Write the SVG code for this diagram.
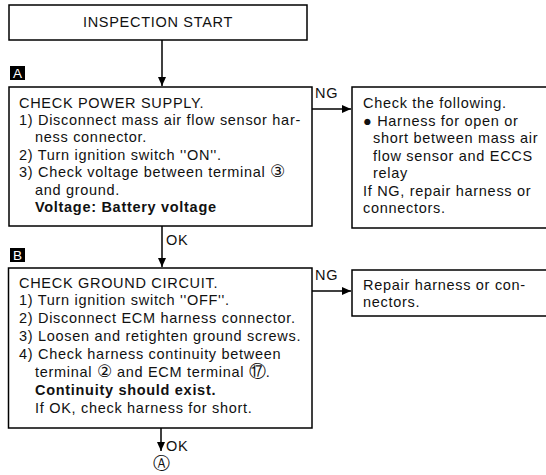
<svg xmlns="http://www.w3.org/2000/svg" width="546" height="475" viewBox="0 0 546 475">
<defs>
<marker id="ah" markerWidth="10" markerHeight="10" refX="9" refY="5" orient="auto" markerUnits="userSpaceOnUse">
<path d="M0,1 L9,5 L0,9 Z" fill="#000"/>
</marker>
<style>
.box{fill:#fff;stroke:#000;stroke-width:1.5}
.t{font-family:"Liberation Sans","DejaVu Sans",Arial,sans-serif;font-size:14.5px;letter-spacing:0.7px;fill:#111}
.b{font-weight:bold}
.cn{font-size:17px;letter-spacing:0}
.lab{font-family:"Liberation Sans",Arial,sans-serif;font-size:13.5px;fill:#fff}
.c{fill:none;stroke:#000;stroke-width:1.5}
</style>
</defs>
<rect width="546" height="475" fill="#fff"/>
<g id="connectors">
<line class="c" x1="162" y1="40" x2="162" y2="86" marker-end="url(#ah)"/>
<line class="c" x1="162" y1="226" x2="162" y2="267" marker-end="url(#ah)"/>
<line class="c" x1="312" y1="109" x2="351" y2="109" marker-end="url(#ah)"/>
<line class="c" x1="312" y1="291" x2="351" y2="291" marker-end="url(#ah)"/>
<line class="c" x1="161" y1="428" x2="161" y2="451" marker-end="url(#ah)"/>
<text class="t" x="315" y="98">NG</text>
<text class="t" x="166" y="245">OK</text>
<text class="t" x="315" y="280">NG</text>
<text class="t" x="166" y="451">OK</text>
</g>
<g id="start">
<rect class="box" x="9" y="5" width="298" height="35"/>
<text class="t" x="158" y="27" text-anchor="middle">INSPECTION START</text>
</g>
<g id="labelA">
<rect x="10" y="66" width="15" height="14" fill="#000"/>
<text class="lab" x="17.5" y="78" text-anchor="middle">A</text>
</g>
<g id="boxA">
<rect class="box" x="9" y="87" width="303" height="139"/>
<text class="t" x="19" y="108">CHECK POWER SUPPLY.</text>
<text class="t" x="19" y="125">1) Disconnect mass air flow sensor har-</text>
<text class="t" x="35" y="142">ness connector.</text>
<text class="t" x="19" y="160">2) Turn ignition switch ''ON''.</text>
<text class="t" x="19" y="177">3) Check voltage between terminal <tspan class="cn">③</tspan></text>
<text class="t" x="35" y="195">and ground.</text>
<text class="t b" x="35" y="212">Voltage: Battery voltage</text>
</g>
<g id="ng1">
<rect class="box" x="352" y="87" width="200" height="141"/>
<text class="t" x="363" y="108">Check the following.</text>
<text class="t" x="363" y="126">● Harness for open or</text>
<text class="t" x="373" y="143">short between mass air</text>
<text class="t" x="373" y="161">flow sensor and ECCS</text>
<text class="t" x="373" y="178">relay</text>
<text class="t" x="363" y="196">If NG, repair harness or</text>
<text class="t" x="363" y="213">connectors.</text>
</g>
<g id="labelB">
<rect x="10" y="248" width="15" height="14" fill="#000"/>
<text class="lab" x="17.5" y="260" text-anchor="middle">B</text>
</g>
<g id="boxB">
<rect class="box" x="8.5" y="268" width="303.5" height="160"/>
<text class="t" x="19" y="288">CHECK GROUND CIRCUIT.</text>
<text class="t" x="19" y="305">1) Turn ignition switch ''OFF''.</text>
<text class="t" x="19" y="323">2) Disconnect ECM harness connector.</text>
<text class="t" x="19" y="341">3) Loosen and retighten ground screws.</text>
<text class="t" x="19" y="359">4) Check harness continuity between</text>
<text class="t" x="35" y="377">terminal <tspan class="cn">②</tspan> and ECM terminal <tspan class="cn">⑰</tspan>.</text>
<text class="t b" x="35" y="395">Continuity should exist.</text>
<text class="t" x="35" y="413">If OK, check harness for short.</text>
</g>
<g id="ng2">
<rect class="box" x="352" y="270" width="200" height="46"/>
<text class="t" x="363" y="290">Repair harness or con-</text>
<text class="t" x="363" y="307">nectors.</text>
</g>
<g id="connA">
<text class="t cn" x="161" y="469" text-anchor="middle">Ⓐ</text>
</g>
</svg>
